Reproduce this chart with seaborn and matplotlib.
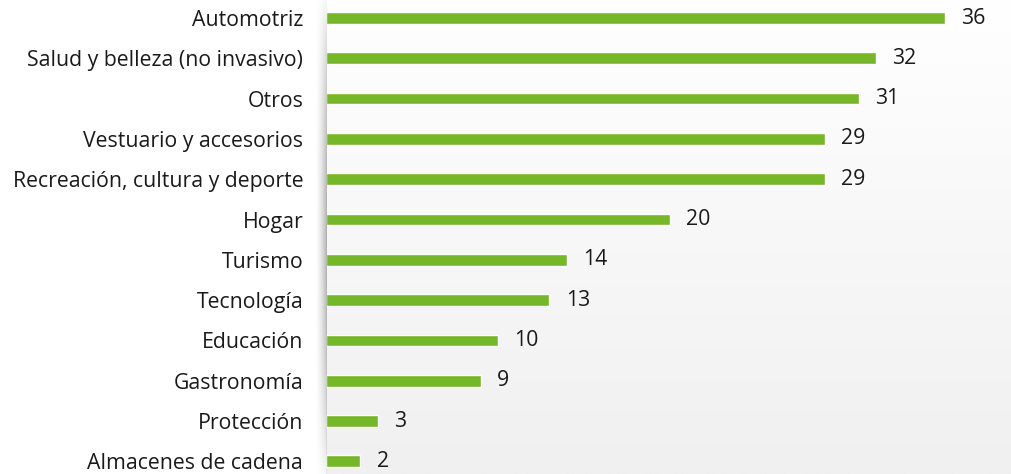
import numpy as np
import pandas as pd
import matplotlib
matplotlib.use("Agg")
import matplotlib.pyplot as plt
import seaborn as sns

categories = ["Automotriz", "Salud y belleza (no invasivo)", "Otros", "Vestuario y accesorios",
              "Recreación, cultura y deporte", "Hogar", "Turismo", "Tecnología", "Educación",
              "Gastronomía", "Protección", "Almacenes de cadena"]
values = [36, 32, 31, 29, 29, 20, 14, 13, 10, 9, 3, 2]

sns.set_theme(style="white")
plt.rcParams['font.family'] = ['Open Sans', 'DejaVu Sans']

df = pd.DataFrame({"cat": categories, "val": values})

fig = plt.figure(figsize=(10.11, 4.74), dpi=100)
ax = fig.add_axes([0.3225, 0, 0.6775, 1])

# background gradient (white top -> light gray bottom)
grad = np.linspace(0, 1, 256).reshape(-1, 1)
cmap = matplotlib.colors.LinearSegmentedColormap.from_list("bg", ["#ffffff", "#f0f0f0"])
ax.imshow(grad, extent=[0, 1, 0, 1], transform=ax.transAxes, cmap=cmap,
          aspect="auto", origin="upper", zorder=0)

sns.barplot(data=df, x="val", y="cat", orient="h", color="#76B72A", width=0.29,
            saturation=1, ax=ax, zorder=2)

ax.set_xlim(0, 39.85)
ax.set_ylim(11.315, -0.447)
for s in ax.spines.values():
    s.set_visible(False)
ax.set_xticks([])
ax.set_xlabel("")
ax.set_ylabel("")
ax.tick_params(axis="y", length=0, pad=16.5, labelsize=15.3, labelcolor="#1a1a1a")

for i, v in enumerate(values):
    ax.text(v + 0.95, i, str(v), va="center", ha="left", fontsize=15.3, color="#1a1a1a")

# left shadow
shadow = np.linspace(0, 1, 64).reshape(1, -1) ** 1.6
vert = np.sin(np.linspace(0.05, np.pi - 0.05, 128)).reshape(-1, 1) ** 0.7
alpha = shadow * vert * 0.6
rgba = np.zeros((128, 64, 4))
rgba[..., :3] = 0.5
rgba[..., 3] = alpha
sax = fig.add_axes([0.3225 - 0.011, 0.0, 0.011, 1.0])
sax.imshow(rgba, aspect="auto", extent=[0, 1, 0, 1])
sax.set_axis_off()

fig.savefig("out.png", dpi=100, facecolor="white")
